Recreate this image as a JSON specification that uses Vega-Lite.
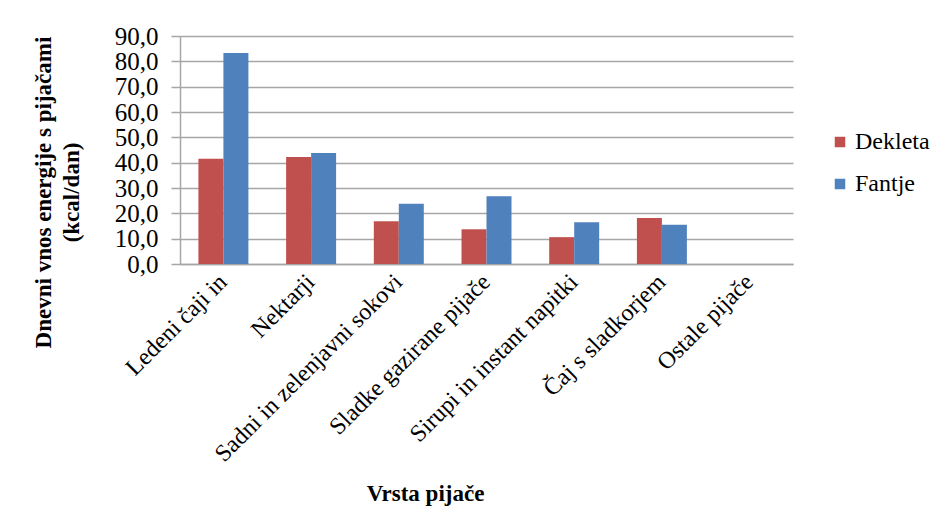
{
  "$schema": "https://vega.github.io/schema/vega-lite/v6.json",
  "width": 613,
  "height": 228,
  "autosize": "none",
  "padding": {"left": 180, "top": 36, "right": 151, "bottom": 266},
  "background": "white",
  "data": {
    "values": [
      {"vrsta": "Ledeni čaji in", "spol": "Dekleta", "kcal": 41.5},
      {"vrsta": "Ledeni čaji in", "spol": "Fantje", "kcal": 83.3},
      {"vrsta": "Nektarji", "spol": "Dekleta", "kcal": 42.2},
      {"vrsta": "Nektarji", "spol": "Fantje", "kcal": 43.8},
      {"vrsta": "Sadni in zelenjavni sokovi", "spol": "Dekleta", "kcal": 16.9},
      {"vrsta": "Sadni in zelenjavni sokovi", "spol": "Fantje", "kcal": 23.8},
      {"vrsta": "Sladke gazirane pijače", "spol": "Dekleta", "kcal": 13.7},
      {"vrsta": "Sladke gazirane pijače", "spol": "Fantje", "kcal": 26.7},
      {"vrsta": "Sirupi in instant napitki", "spol": "Dekleta", "kcal": 10.6},
      {"vrsta": "Sirupi in instant napitki", "spol": "Fantje", "kcal": 16.5},
      {"vrsta": "Čaj s sladkorjem", "spol": "Dekleta", "kcal": 18.2},
      {"vrsta": "Čaj s sladkorjem", "spol": "Fantje", "kcal": 15.5},
      {"vrsta": "Ostale pijače", "spol": "Dekleta", "kcal": 0},
      {"vrsta": "Ostale pijače", "spol": "Fantje", "kcal": 0}
    ]
  },
  "mark": {"type": "bar"},
  "encoding": {
    "x": {
      "field": "vrsta",
      "type": "nominal",
      "sort": null,
      "scale": {"paddingInner": 0.43, "paddingOuter": 0.21},
      "axis": {
        "title": "Vrsta pijače",
        "titleFont": "Times New Roman",
        "titleFontSize": 23,
        "titleFontWeight": "bold",
        "titleColor": "black",
        "titleX": 245,
        "titleY": 229,
        "titleBaseline": "middle",
        "labelAngle": -45,
        "labelAlign": "right",
        "labelBaseline": "middle",
        "labelPadding": 14,
        "labelFont": "Times New Roman",
        "labelFontSize": 24,
        "labelColor": "black",
        "labelLimit": 400,
        "ticks": false,
        "domainColor": "#a6a6a6",
        "domainWidth": 1.5,
        "grid": false
      }
    },
    "xOffset": {"field": "spol", "type": "nominal", "scale": {"paddingInner": 0, "paddingOuter": 0}},
    "y": {
      "field": "kcal",
      "type": "quantitative",
      "scale": {"domain": [0, 90], "nice": false},
      "axis": {
        "values": [0, 10, 20, 30, 40, 50, 60, 70, 80, 90],
        "labelExpr": "replace(format(datum.value, '.1f'), '.', ',')",
        "labelFont": "Times New Roman",
        "labelFontSize": 25,
        "labelColor": "black",
        "labelPadding": 13,
        "tickSize": 9,
        "tickColor": "#a6a6a6",
        "tickWidth": 1.5,
        "domainColor": "#a6a6a6",
        "domainWidth": 1.5,
        "gridColor": "#a6a6a6",
        "gridWidth": 1.5,
        "title": ["Dnevni vnos energije s pijačami", "(kcal/dan)"],
        "titleFont": "Times New Roman",
        "titleFontSize": 23,
        "titleFontWeight": "bold",
        "titleColor": "black",
        "titleLineHeight": 28,
        "titleAngle": -90,
        "titleX": -130,
        "titleY": 156,
        "titleAlign": "center",
        "titleBaseline": "alphabetic"
      }
    },
    "color": {
      "field": "spol",
      "type": "nominal",
      "scale": {"domain": ["Dekleta", "Fantje"], "range": ["#c0504d", "#4f81bd"]},
      "legend": {
        "title": null,
        "orient": "none",
        "legendX": 648,
        "legendY": 94,
        "symbolType": "square",
        "symbolSize": 110,
        "symbolStrokeWidth": 0,
        "labelFont": "Times New Roman",
        "labelFontSize": 24,
        "labelColor": "black",
        "labelOffset": 3,
        "rowPadding": 18
      }
    }
  },
  "config": {
    "view": {"stroke": null}
  }
}
